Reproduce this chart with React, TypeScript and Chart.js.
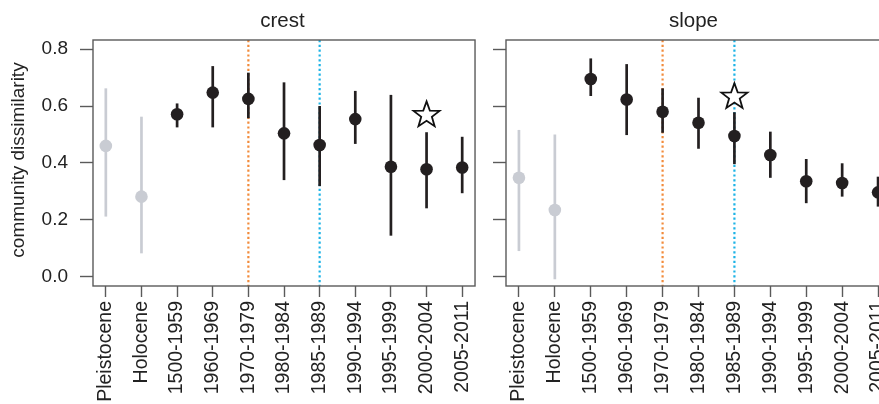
import React, { useEffect, useRef } from "react";
import { Chart, registerables } from "chart.js";

Chart.register(...registerables);

// ---------- data ----------
const categories = [
  "Pleistocene",
  "Holocene",
  "1500-1959",
  "1960-1969",
  "1970-1979",
  "1980-1984",
  "1985-1989",
  "1990-1994",
  "1995-1999",
  "2000-2004",
  "2005-2011",
];
const yTickValues = [0, 0.2, 0.4, 0.6, 0.8];
const baselineCategories = ["Pleistocene", "Holocene"];
const referenceCategories = ["1970-1979", "1985-1989"];

const crestMean = [0.46, 0.282, 0.571, 0.647, 0.625, 0.504, 0.463, 0.554, 0.387, 0.378, 0.384];
const crestLower = [0.212, 0.083, 0.525, 0.525, 0.557, 0.34, 0.319, 0.467, 0.145, 0.241, 0.294];
const crestUpper = [0.662, 0.5625, 0.609, 0.74, 0.717, 0.683, 0.6, 0.653, 0.639, 0.508, 0.492];
const crestStarCategory = "2000-2004";
const crestStarValue = 0.568;

const slopeMean = [0.348, 0.235, 0.695, 0.623, 0.58, 0.541, 0.495, 0.428, 0.336, 0.33, 0.297];
const slopeLower = [0.091, -0.008, 0.635, 0.498, 0.506, 0.45, 0.396, 0.348, 0.259, 0.282, 0.247];
const slopeUpper = [0.516, 0.5, 0.767, 0.747, 0.662, 0.629, 0.578, 0.51, 0.414, 0.399, 0.352];
const slopeStarCategory = "1985-1989";
const slopeStarValue = 0.632;

// ---------- styles ----------
const FONT = "'Liberation Sans', Arial, Helvetica, sans-serif";
const TEXT = "#222222";
const AXIS = "#5a5a5a";
const DARK = "#231f20";
const GREY = "#c9ccd3";
const REF_COLORS = ["#f28b3b", "#1cb3e6"];

type PanelProps = {
  title: string;
  mean: number[];
  lower: number[];
  upper: number[];
  starCategory: string;
  starValue: number;
  left: number;
  width: number;
  yAxisWidth: number;
  padRight: number;
  showYLabels: boolean;
  showYTitle: boolean;
  titleOffset: number;
};

function drawStar(ctx: CanvasRenderingContext2D, cx: number, cy: number, R: number, r: number) {
  ctx.beginPath();
  for (let k = 0; k < 10; k++) {
    const ang = -Math.PI / 2 + (k * Math.PI) / 5;
    const rad = k % 2 === 0 ? R : r;
    const px = cx + rad * Math.cos(ang);
    const py = cy + rad * Math.sin(ang);
    if (k === 0) ctx.moveTo(px, py);
    else ctx.lineTo(px, py);
  }
  ctx.closePath();
}

function Panel(p: PanelProps) {
  const ref = useRef<HTMLCanvasElement | null>(null);

  useEffect(() => {
    const canvas = ref.current;
    if (!canvas) return;

    const colorFor = (i: number) =>
      baselineCategories.includes(categories[i]) ? GREY : DARK;

    const decor = {
      id: "panelDecor",
      beforeDatasetsDraw(chart: any) {
        const { ctx, chartArea: ca } = chart;
        const xs = chart.scales.x;
        const ys = chart.scales.y;
        ctx.save();
        // reference dotted lines
        referenceCategories.forEach((cat, k) => {
          const px = xs.getPixelForValue(categories.indexOf(cat));
          ctx.strokeStyle = REF_COLORS[k];
          ctx.lineWidth = 2.2;
          ctx.setLineDash([2.2, 2.6]);
          ctx.beginPath();
          ctx.moveTo(px, ca.top);
          ctx.lineTo(px, ca.bottom);
          ctx.stroke();
        });
        ctx.setLineDash([]);
        // error bars
        p.lower.forEach((lo, i) => {
          const px = xs.getPixelForValue(i);
          ctx.strokeStyle = colorFor(i);
          ctx.lineWidth = 2.7;
          ctx.beginPath();
          ctx.moveTo(px, ys.getPixelForValue(lo));
          ctx.lineTo(px, ys.getPixelForValue(p.upper[i]));
          ctx.stroke();
        });
        // box
        ctx.strokeStyle = AXIS;
        ctx.lineWidth = 1.4;
        ctx.strokeRect(ca.left, ca.top, ca.right - ca.left, ca.bottom - ca.top);
        ctx.restore();
      },
      afterDatasetsDraw(chart: any) {
        const { ctx } = chart;
        const xs = chart.scales.x;
        const ys = chart.scales.y;
        ctx.save();
        const sx = xs.getPixelForValue(categories.indexOf(p.starCategory));
        const sy = ys.getPixelForValue(p.starValue);
        drawStar(ctx, sx, sy, 13.7, 5.6);
        ctx.fillStyle = "#ffffff";
        ctx.fill();
        ctx.strokeStyle = "#111111";
        ctx.lineWidth = 1.8;
        ctx.lineJoin = "miter";
        ctx.stroke();
        ctx.restore();
      },
      afterDraw(chart: any) {
        const { ctx, chartArea: ca } = chart;
        ctx.save();
        ctx.fillStyle = TEXT;
        ctx.font = `20.5px ${FONT}`;
        ctx.textAlign = "center";
        ctx.textBaseline = "alphabetic";
        ctx.fillText(p.title, ca.left + p.titleOffset, 26.5);
        if (p.showYTitle) {
          ctx.translate(19, 160);
          ctx.rotate(-Math.PI / 2);
          ctx.font = `19px ${FONT}`;
          ctx.textBaseline = "middle";
          ctx.fillText("community dissimilarity", 0, 0);
        }
        ctx.restore();
      },
    };

    const chart = new Chart(canvas, {
      type: "scatter",
      data: {
        datasets: [
          {
            data: p.mean.map((v, i) => ({ x: i, y: v })),
            pointRadius: 6.3,
            pointHoverRadius: 6.3,
            pointBorderWidth: 0,
            pointBackgroundColor: p.mean.map((_, i) => colorFor(i)),
            pointBorderColor: p.mean.map((_, i) => colorFor(i)),
            showLine: false,
          },
        ],
      },
      options: {
        animation: false,
        responsive: false,
        events: [],
        layout: { padding: { top: 40, right: p.padRight, left: 0, bottom: 0 } },
        plugins: {
          legend: { display: false },
          title: { display: false },
          tooltip: { enabled: false },
        },
        scales: {
          x: {
            type: "linear",
            min: -0.36,
            max: 10.36,
            border: { display: false },
            grid: {
              drawOnChartArea: false,
              drawTicks: true,
              tickLength: 11,
              tickWidth: 1.4,
              color: AXIS,
            },
            afterBuildTicks: (scale: any) => {
              scale.ticks = categories.map((_, i) => ({ value: i }));
            },
            afterFit: (scale: any) => {
              scale.height = 118;
            },
            ticks: {
              autoSkip: false,
              minRotation: 90,
              maxRotation: 90,
              padding: 4,
              color: TEXT,
              font: { family: FONT, size: 19.5 },
              callback: (v: any) => categories[Math.round(Number(v))] ?? "",
            },
          },
          y: {
            type: "linear",
            min: -0.0316,
            max: 0.8316,
            border: { display: false },
            grid: {
              drawOnChartArea: false,
              drawTicks: true,
              tickLength: 13,
              tickWidth: 1.4,
              color: AXIS,
            },
            afterBuildTicks: (scale: any) => {
              scale.ticks = yTickValues.map((v) => ({ value: v }));
            },
            afterFit: (scale: any) => {
              scale.width = p.yAxisWidth;
            },
            ticks: {
              autoSkip: false,
              padding: 12,
              color: TEXT,
              font: { family: FONT, size: 19 },
              callback: (v: any) => (p.showYLabels ? Number(v).toFixed(1) : ""),
            },
          },
        },
      },
      plugins: [decor],
    } as any);

    return () => chart.destroy();
  }, [p]);

  return (
    <canvas
      ref={ref}
      width={p.width}
      height={404}
      style={{ position: "absolute", left: p.left, top: 0, width: p.width, height: 404, display: "block" }}
    />
  );
}

const crestProps: PanelProps = {
  title: "crest",
  mean: crestMean,
  lower: crestLower,
  upper: crestUpper,
  starCategory: crestStarCategory,
  starValue: crestStarValue,
  left: 0,
  width: 490,
  yAxisWidth: 93,
  padRight: 12,
  showYLabels: true,
  showYTitle: true,
  titleOffset: 189.5,
};

const slopeProps: PanelProps = {
  title: "slope",
  mean: slopeMean,
  lower: slopeLower,
  upper: slopeUpper,
  starCategory: slopeStarCategory,
  starValue: slopeStarValue,
  left: 486,
  width: 420,
  yAxisWidth: 20,
  padRight: 15,
  showYLabels: false,
  showYTitle: false,
  titleOffset: 187.5,
};

export default function App() {
  return (
    <div
      style={{
        position: "fixed",
        left: 0,
        top: 0,
        width: 879,
        height: 404,
        overflow: "hidden",
        background: "#ffffff",
      }}
    >
      <Panel {...crestProps} />
      <Panel {...slopeProps} />
    </div>
  );
}
